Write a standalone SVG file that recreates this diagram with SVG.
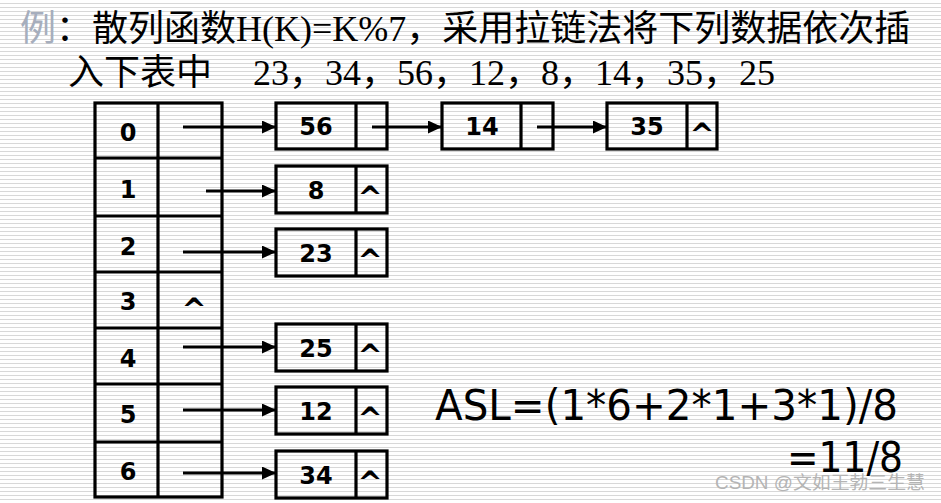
<svg xmlns="http://www.w3.org/2000/svg" width="941" height="503" viewBox="0 0 941 503">
<style>
.title{font-family:"Liberation Serif","Noto Sans CJK SC",serif;font-size:36px;fill:#000}
.b{fill:none;stroke:#000;stroke-width:3.2}
.t{font-family:"DejaVu Sans",Verdana,sans-serif;font-weight:bold;font-size:24px;fill:#000;text-anchor:middle}
.c{font-family:"DejaVu Sans",Verdana,sans-serif;font-weight:bold;font-size:30px;fill:#000;text-anchor:middle}
.ln{stroke:#000;stroke-width:3;fill:none;marker-end:url(#ah)}
.asl{font-family:"DejaVu Sans",Verdana,sans-serif;font-size:43px;fill:#000}
.wm{font-family:"Liberation Sans","Noto Sans CJK SC",sans-serif;font-size:18px;fill:#b4b4b4}
</style>
<defs>
<pattern id="stripes" width="4" height="4" patternUnits="userSpaceOnUse">
<rect width="4" height="4" fill="#fff"/>
<rect y="3" width="4" height="1" fill="#d8d8d8"/>
</pattern>
<marker id="ah" markerUnits="userSpaceOnUse" markerWidth="14" markerHeight="13" refX="14" refY="6.5" orient="auto">
<path d="M0,0 L14,6.5 L0,13 z" fill="#000"/>
</marker>
</defs>
<rect width="941" height="503" fill="url(#stripes)"/>

<g id="title">
<text class="title" x="20" y="41"><tspan fill="#a6aebd">例</tspan>：散列函数H(K)=K%7，采用拉链法将下列数据依次插</text>
<text class="title" x="68" y="85">入下表中</text>
<text class="title" x="253" y="85">23，34，56，12，8，14，35，25</text>
</g>

<g id="table">
<rect class="b" x="95" y="103" width="127" height="394"/>
<line class="b" x1="158" y1="103" x2="158" y2="497"/>
<line class="b" x1="95" y1="158" x2="222" y2="158"/>
<line class="b" x1="95" y1="216" x2="222" y2="216"/>
<line class="b" x1="95" y1="272" x2="222" y2="272"/>
<line class="b" x1="95" y1="328" x2="222" y2="328"/>
<line class="b" x1="95" y1="384" x2="222" y2="384"/>
<line class="b" x1="95" y1="442" x2="222" y2="442"/>
<g id="row0"><text class="t" x="128" y="141">0</text></g>
<g id="row1"><text class="t" x="128" y="198">1</text></g>
<g id="row2"><text class="t" x="128" y="255">2</text></g>
<g id="row3"><text class="t" x="128" y="310">3</text><text class="c" x="194" y="320">^</text></g>
<g id="row4"><text class="t" x="128" y="367">4</text></g>
<g id="row5"><text class="t" x="128" y="423">5</text></g>
<g id="row6"><text class="t" x="128" y="480">6</text></g>
</g>

<g id="n56"><rect class="b" x="276" y="103" width="111" height="46"/><line class="b" x1="356" y1="103" x2="356" y2="149"/><text class="t" x="316" y="135">56</text></g>
<g id="n14"><rect class="b" x="442" y="103" width="111" height="46"/><line class="b" x1="521" y1="103" x2="521" y2="149"/><text class="t" x="482" y="135">14</text></g>
<g id="n35"><rect class="b" x="607" y="103" width="110" height="46"/><line class="b" x1="687" y1="103" x2="687" y2="149"/><text class="t" x="647" y="135">35</text><text class="c" x="702" y="145">^</text></g>
<g id="n8"><rect class="b" x="276" y="166" width="111" height="47"/><line class="b" x1="356" y1="166" x2="356" y2="213"/><text class="t" x="316" y="199">8</text><text class="c" x="370" y="208">^</text></g>
<g id="n23"><rect class="b" x="276" y="229" width="111" height="47"/><line class="b" x1="356" y1="229" x2="356" y2="276"/><text class="t" x="316" y="262">23</text><text class="c" x="370" y="271">^</text></g>
<g id="n25"><rect class="b" x="276" y="324" width="111" height="47"/><line class="b" x1="356" y1="324" x2="356" y2="371"/><text class="t" x="316" y="357">25</text><text class="c" x="370" y="366">^</text></g>
<g id="n12"><rect class="b" x="276" y="387" width="111" height="47"/><line class="b" x1="356" y1="387" x2="356" y2="434"/><text class="t" x="316" y="420">12</text><text class="c" x="370" y="429">^</text></g>
<g id="n34"><rect class="b" x="276" y="451" width="111" height="47"/><line class="b" x1="356" y1="451" x2="356" y2="498"/><text class="t" x="316" y="484">34</text><text class="c" x="370" y="493">^</text></g>

<g id="connectors">
<line class="ln" x1="183" y1="127" x2="276" y2="127"/>
<line class="ln" x1="372" y1="127" x2="442" y2="127"/>
<line class="ln" x1="537" y1="127" x2="607" y2="127"/>
<line class="ln" x1="206" y1="191" x2="276" y2="191"/>
<line class="ln" x1="183" y1="252" x2="276" y2="252"/>
<line class="ln" x1="183" y1="347" x2="276" y2="347"/>
<line class="ln" x1="183" y1="410" x2="276" y2="410"/>
<line class="ln" x1="183" y1="473" x2="276" y2="473"/>
</g>

<g id="asl">
<text class="asl" x="435" y="420" textLength="463" lengthAdjust="spacingAndGlyphs">ASL=(1*6+2*1+3*1)/8</text>
<text class="asl" x="787" y="472" textLength="116" lengthAdjust="spacingAndGlyphs">=11/8</text>
</g>
<text class="wm" x="715" y="489" textLength="210" lengthAdjust="spacingAndGlyphs">CSDN @文如王勃三生慧</text>
</svg>
